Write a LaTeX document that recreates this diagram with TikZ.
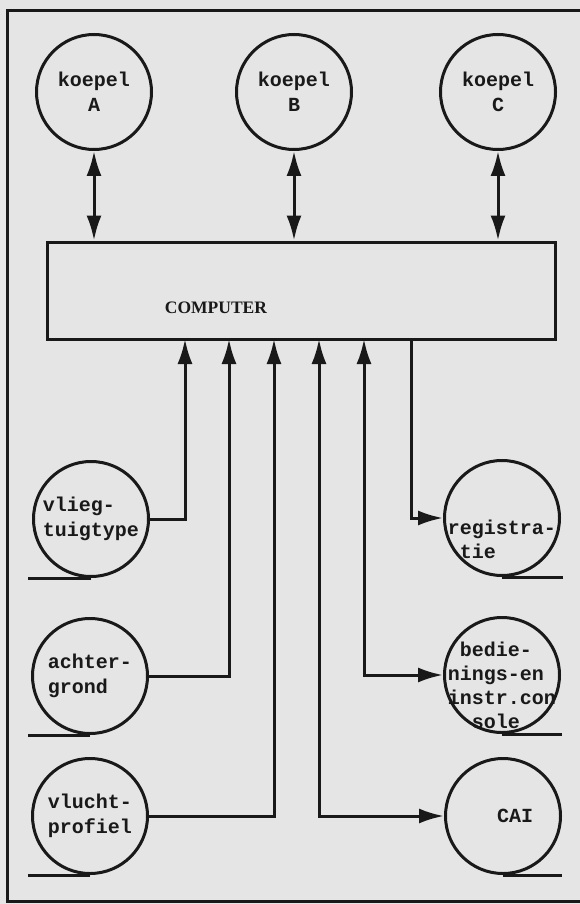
\documentclass[tikz,border=0pt]{standalone}
\usepackage{fontspec}
\newfontfamily\typefont{Liberation Mono}
\newfontfamily\headfont{Liberation Serif}
\usetikzlibrary{arrows.meta}
\definecolor{paper}{RGB}{229,229,229}
\definecolor{ink}{RGB}{25,25,25}
\newcommand{\tsp}{\hspace*{0.6em}}

\begin{document}
\begin{tikzpicture}[x=1pt,y=-1pt,line width=3pt,color=ink,
     store/.style={circle,draw,minimum size=115pt,inner sep=0pt,align=center,
       font=\typefont\bfseries\fontsize{20}{24.5}\selectfont},
     txt/.style={inner sep=0pt,align=left,
       font=\typefont\bfseries\fontsize{20}{24}\selectfont},
     flow/.style={-{Latex[length=25pt,width=15pt]}},
     both/.style={{Latex[length=25pt,width=15pt]}-{Latex[length=25pt,width=15pt]}}]
    \fill[paper] (0,0) rectangle (580,904);
    \useasboundingbox (0,0) rectangle (580,904);
    \draw (580,11) -- (7,11) -- (7,901) -- (580,901);
    % computer
    \node[draw,minimum width=508pt,minimum height=97pt,inner sep=0pt] (box) at (301,290.5) {};
    \node[font=\headfont\bfseries\fontsize{17.5}{20}\selectfont] (cmp) at (216,308) {COMPUTER};
    \coordinate (p1) at (185,339); \coordinate (p2) at (229,339);
    \coordinate (p3) at (274,339); \coordinate (p4) at (319,339);
    \coordinate (p5) at (364,339); \coordinate (p6) at (411,339);
    % koepels
    \node[store] (kA) at (94,92) {koepel\\A};
    \node[store] (kB) at (294,92) {koepel\\B};
    \node[store] (kC) at (498,92) {koepel\\C};
    \draw[both] (kA) -- (kA |- box.north);
    \draw[both] (kB) -- (kB |- box.north);
    \draw[both] (kC) -- (kC |- box.north);
    % inputs
    \node[store,align=left] (vlieg) at (91,519) {vlieg-\\tuigtype};
    \node[store,align=left] (achter) at (90,676) {achter-\\grond};
    \node[store,align=left] (vlucht) at (90,816) {vlucht-\\profiel};
    \draw (vlieg.south) -- ++(-63,0);
    \draw (achter.south) -- ++(-62,0);
    \draw (vlucht.south) -- ++(-62,0);
    \draw[flow] (vlieg) -| (p1);
    \draw[flow] (achter) -| (p2);
    \draw[flow] (vlucht) -| (p3);
    % outputs
    \node[store] (reg) at (502,518) {};
    \node[txt] (regtxt) at ([yshift=-21pt]reg.center) {registra-\\\tsp tie};
    \node[store] (bed) at (502,675) {};
    \node[txt] (bedtxt) at ([yshift=-10pt]bed.center) {\tsp bedie-\\nings-en\\instr.con\\\tsp\tsp sole};
    \node[store,align=left] (cai) at (503,816) {\tsp\tsp CAI};
    \draw (reg.south) -- ++(61,0);
    \draw (bed.south) -- ++(60,0);
    \draw (cai.south) -- ++(59,0);
    \draw[flow] (p6) |- (reg);
    \draw[both] (p5) |- (bed);
    \draw[both] (p4) |- (cai);
\end{tikzpicture}
\end{document}
